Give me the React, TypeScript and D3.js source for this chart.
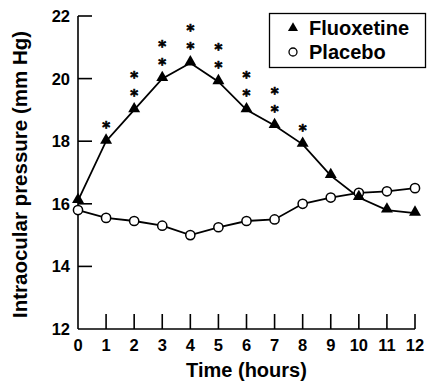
import React from "react";
import * as d3 from "d3";

const hours = [0, 1, 2, 3, 4, 5, 6, 7, 8, 9, 10, 11, 12];
const fluoxetine = [16.1, 18.0, 19.0, 20.0, 20.5, 19.9, 19.0, 18.5, 17.9, 16.9, 16.2, 15.8, 15.7];
const placebo = [15.8, 15.55, 15.45, 15.3, 15.0, 15.25, 15.45, 15.5, 16.0, 16.2, 16.35, 16.4, 16.5];
const stars = [0, 1, 2, 2, 2, 2, 2, 2, 1, 0, 0, 0, 0];
const yTicks = [12, 14, 16, 18, 20, 22];
const xTicks = [0, 1, 2, 3, 4, 5, 6, 7, 8, 9, 10, 11, 12];
const seriesNames = ["Fluoxetine", "Placebo"];

const W = 428;
const H = 386;
const FONT = "'Liberation Sans', Arial, Helvetica, sans-serif";
const STAR_FONT = "'DejaVu Sans', sans-serif";

export default function App() {
  const x = d3.scaleLinear().domain([0, 12]).range([78, 415]);
  const y = d3.scaleLinear().domain([12, 22]).range([329, 16]);
  const line = d3
    .line<number>()
    .x((_, i) => x(hours[i]))
    .y((d) => y(d));
  const tri = d3.symbol().type(d3.symbolTriangle).size(62)();
  const triSmall = d3.symbol().type(d3.symbolTriangle).size(44)();
  const starFs = 15;

  return (
    <svg
      width={W}
      height={H}
      viewBox={`0 0 ${W} ${H}`}
      style={{ position: "absolute", left: 0, top: 0, background: "#fff" }}
      fontFamily={FONT}
    >
      <rect width={W} height={H} fill="#fff" />
      {/* axes */}
      <line x1={x(0)} x2={x(0)} y1={y(12)} y2={y(22)} stroke="#000" strokeWidth={1.6} />
      <line x1={x(0)} x2={x(12)} y1={y(12)} y2={y(12)} stroke="#000" strokeWidth={1.6} />
      {yTicks.map((t) => (
        <g key={"y" + t}>
          {t !== 12 && (
            <line x1={x(0)} x2={x(0) + 14} y1={y(t)} y2={y(t)} stroke="#000" strokeWidth={1.6} />
          )}
          <text
            x={x(0) - 8}
            y={y(t)}
            dy="0.36em"
            textAnchor="end"
            fontSize={16.5}
            fontWeight="bold"
          >
            {t}
          </text>
        </g>
      ))}
      {xTicks.map((t) => (
        <g key={"x" + t}>
          {t !== 0 && (
            <line x1={x(t)} x2={x(t)} y1={y(12)} y2={y(12) - 15} stroke="#000" strokeWidth={1.6} />
          )}
          <text x={x(t)} y={351} textAnchor="middle" fontSize={16.5} fontWeight="bold">
            {t}
          </text>
        </g>
      ))}
      <text x={(x(0) + x(12)) / 2} y={377} textAnchor="middle" fontSize={20} fontWeight="bold">
        Time (hours)
      </text>
      <text
        transform={`translate(27,${(y(12) + y(22)) / 2 + 2}) rotate(-90)`}
        textAnchor="middle"
        fontSize={20.5}
        fontWeight="bold"
      >
        Intraocular pressure (mm Hg)
      </text>

      {/* lines */}
      <path d={line(fluoxetine) || ""} fill="none" stroke="#000" strokeWidth={1.8} />
      <path d={line(placebo) || ""} fill="none" stroke="#000" strokeWidth={1.8} />
      {placebo.map((v, i) => (
        <circle key={"p" + i} cx={x(hours[i])} cy={y(v)} r={4.6} fill="#fff" stroke="#000" strokeWidth={1.5} />
      ))}
      {fluoxetine.map((v, i) => (
        <path key={"f" + i} d={tri || ""} transform={`translate(${x(hours[i])},${y(v) - 1})`} fill="#000" />
      ))}

      {/* significance stars */}
      {stars.map((n, i) =>
        d3.range(n).map((k) => (
          <text
            key={"s" + i + "-" + k}
            x={x(hours[i])}
            y={y(fluoxetine[i]) - 16 - 18 * k + 0.5 * starFs}
            textAnchor="middle"
            fontSize={starFs}
            fontWeight="bold"
            fontFamily={STAR_FONT}
            stroke="#000"
            strokeWidth={0.7}
          >
            *
          </text>
        ))
      )}

      {/* legend */}
      <rect x={269.5} y={13.5} width={156} height={54} fill="#fff" stroke="#000" strokeWidth={1.3} />
      <path d={triSmall || ""} transform="translate(293,28)" fill="#000" />
      <circle cx={293} cy={52} r={4} fill="#fff" stroke="#000" strokeWidth={1.3} />
      <text x={309} y={35} fontSize={20} fontWeight="bold">
        {seriesNames[0]}
      </text>
      <text x={309} y={59} fontSize={20} fontWeight="bold">
        {seriesNames[1]}
      </text>
    </svg>
  );
}
